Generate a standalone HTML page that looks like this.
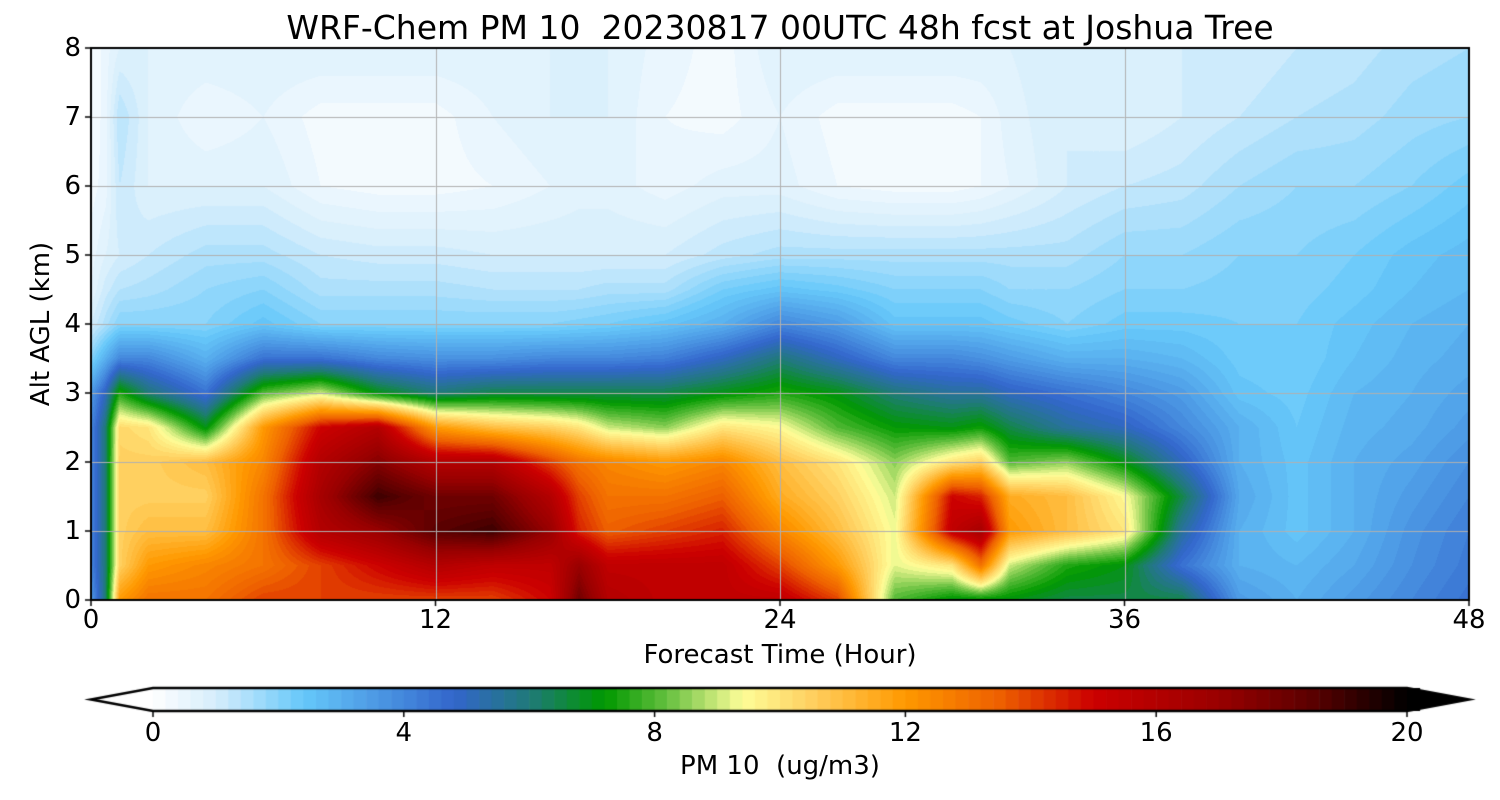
<!DOCTYPE html>
<html><head><meta charset="utf-8">
<style>
html,body{margin:0;padding:0;background:#fff;}
#wrap{position:relative;width:1500px;height:800px;font-family:"DejaVu Sans","Liberation Sans",sans-serif;color:#000;}
canvas{position:absolute;left:0;top:0;}
.t{position:absolute;white-space:nowrap;}
</style></head>
<body>
<div id="wrap">
<canvas id="c" width="1500" height="800"></canvas>
<div class="t" style="left:780px;top:8px;font-size:33px;transform:translateX(-50%);">WRF-Chem PM 10&nbsp; 20230817 00UTC 48h fcst at Joshua Tree</div>
<div class="t" style="left:41px;top:324px;font-size:26px;transform:translate(-50%,-50%) rotate(-90deg);">Alt AGL (km)</div>
<div class="t" style="left:780px;top:640px;font-size:26px;transform:translateX(-50%);">Forecast Time (Hour)</div>
<div class="t" style="left:780px;top:751px;font-size:26px;transform:translateX(-50%);">PM 10&nbsp; (ug/m3)</div>
<div id="labels"></div>
</div>
<script>
const times=[0,0.5,1,2,4,6,8,10,12,14,16,17,18,20,22,24,26,28,30,31,32,34,36,38,40,42,44,46,48];
const heights=[0,0.5,1,1.5,2,2.5,3,3.5,4,4.5,5,6,7,8];
const pm10=[
[3.5,4,4,4,4,4,3.5,2,1,0.6,0.5,0.3,0.2,0.2],
[6,6,6,6,6,6,5,3,1.5,1.1,0.8,0.5,0.5,0.5],
[12,10.5,10.5,10.5,10.5,10.3,7.5,4,2,1.4,1,1.2,1.4,0.8],
[13,12,11,10.5,10.5,10,6,4,2,1.5,1.2,0.8,0.8,0.8],
[13,12.5,11,10.5,11,7,4.5,3,2,1.8,1.5,0.8,0.4,0.8],
[14,13,13,13,12.5,12,8,4.5,2.5,2,1.5,0.8,0.6,0.8],
[14,14,16,16.5,16,15,9,4.5,2,1.5,1.2,0.4,0.3,0.8],
[14,15,17,19,17.5,16,7,4,2,1.5,1.1,0.3,0.3,0.8],
[14,16,18.5,18,16,12,6,3.8,2,1.5,1.1,0.3,0.3,0.8],
[14,15.5,19,18,16,11,6.5,3.8,2,1.4,1,0.4,0.6,0.8],
[15,15.5,17,16,14,10.5,6.5,4,2,1.4,1,0.6,0.8,0.8],
[18,17,14.5,14,13,10,6.5,4,2.1,1.4,1,0.7,0.8,0.8],
[16,15.5,13.5,13,12.5,9,6.5,4,2.2,1.5,1,0.7,0.8,0.8],
[15.5,15.5,14,13,12,8.5,6.5,4.2,2.5,1.5,1,0.5,0.4,0.5],
[15.5,15.5,14.5,13.5,12.5,10,7,5,3,2.2,1.3,0.7,0.3,0.3],
[15.5,14,12.5,11.5,11,9.5,7.5,6,4,2.5,1.5,0.7,0.6,0.8],
[14,12,11,10.5,10,8,7,5,3.5,2.3,1.5,0.4,0.3,0.8],
[8,9.2,9.3,9,8.5,7.2,6,4,2.5,2,1.5,0.3,0.3,0.8],
[7,10,15.5,15,10,7,5.5,4,2.5,2,1.5,0.3,0.3,0.8],
[7,13,16.5,14.5,10.5,7.3,5.5,3.8,2.5,2,1.5,0.4,0.4,0.8],
[7,9,12,11.5,8,6.5,5,3.5,2.3,1.8,1.5,0.6,0.7,0.8],
[6.5,7.5,11,11,8.5,5.5,4.5,3,2,1.8,1.5,1,1,1],
[6.5,7,10,9.5,7,5,4,3,2.3,2,1.8,1.2,0.8,0.9],
[6.5,4.5,5.5,6.5,5,4,3.5,2.8,2.3,2,1.8,1.3,1,1],
[3.5,3,3,3.2,3,3,2.5,2.3,2.2,2.1,2,1.6,1.2,1],
[3,2.8,2.5,2.5,2.5,2.4,2.3,2.2,2.2,2.1,2,1.8,1.4,1.2],
[3.5,3.2,3,3,3,2.9,2.8,2.6,2.5,2.3,2.2,1.8,1.5,1.3],
[4,3.8,3.7,3.5,3.3,3.1,3,2.9,2.8,2.6,2.5,2,1.7,1.5],
[4.5,4.3,4.2,4,3.8,3.5,3.3,3.1,3,2.8,2.7,2.3,1.8,1.6]
];
const xTicks=[0,12,24,36,48];
const yTicks=[0,1,2,3,4,5,6,7,8];
const cbTicks=[0,4,8,12,16,20];
const cmapVals=[0,1,2.4,3.6,4.8,6,7.2,8.2,9.4,10.5,12,13.5,15,17,18.5,20];
const cmapCols=['#ffffff','#d6eefc','#66c8fa','#4c98e4','#3366cc','#207a7a','#009900','#66c040','#fefe99','#ffd060','#ff9900','#ee6000','#cc0000','#9a0000','#5a0000','#000000'];

const L=91,R=1469,T=48,B=600;
const xs=t=>L+(t/48)*(R-L);
const ys=h=>B-(h/8)*(B-T);
const CB0=153,CB1=1407,CBT=688,CBB=711;
const cbx=v=>CB0+(v/20)*(CB1-CB0);
function hex(c){return [parseInt(c.slice(1,3),16),parseInt(c.slice(3,5),16),parseInt(c.slice(5,7),16)];}
const cRGB=cmapCols.map(hex);
function cmap(v){
  v=Math.max(0,Math.min(20,v));
  for(let i=0;i<cmapVals.length-1;i++){
    if(v<=cmapVals[i+1]){const f=(v-cmapVals[i])/(cmapVals[i+1]-cmapVals[i]);
      const a=cRGB[i],b=cRGB[i+1];return [a[0]+(b[0]-a[0])*f,a[1]+(b[1]-a[1])*f,a[2]+(b[2]-a[2])*f];}
  }
  return cRGB[cRGB.length-1];
}
function qz(v){return Math.floor(v/0.2)*0.2+0.1;}
function idx(arr,v){for(let i=0;i<arr.length-1;i++){if(v<=arr[i+1])return i;}return arr.length-2;}
function sample(t,h){
  const i=idx(times,t),j=idx(heights,h);
  const ft=(t-times[i])/(times[i+1]-times[i]),fh=(h-heights[j])/(heights[j+1]-heights[j]);
  const a=pm10[i][j],b=pm10[i+1][j],c=pm10[i][j+1],d=pm10[i+1][j+1];
  return (a*(1-ft)+b*ft)*(1-fh)+(c*(1-ft)+d*ft)*fh;
}
const cv=document.getElementById('c'),ctx=cv.getContext('2d');
const W=R-L,H=B-T,img=ctx.createImageData(W,H);
for(let py=0;py<H;py++){const h=8*(1-(py+0.5)/H);
  for(let px=0;px<W;px++){const t=48*(px+0.5)/W;
    const col=cmap(qz(sample(t,h)));const k=(py*W+px)*4;
    img.data[k]=col[0];img.data[k+1]=col[1];img.data[k+2]=col[2];img.data[k+3]=255;}}
ctx.putImageData(img,L,T);
ctx.strokeStyle='#b0b0b0';ctx.lineWidth=1;
xTicks.forEach(t=>{ctx.beginPath();ctx.moveTo(Math.round(xs(t))+0.5,T);ctx.lineTo(Math.round(xs(t))+0.5,B);ctx.stroke();});
yTicks.forEach(h=>{ctx.beginPath();ctx.moveTo(L,Math.round(ys(h))+0.5);ctx.lineTo(R,Math.round(ys(h))+0.5);ctx.stroke();});
ctx.strokeStyle='#000';ctx.lineWidth=2;ctx.strokeRect(L,T,W,H);
ctx.lineWidth=1.5;
xTicks.forEach(t=>{ctx.beginPath();ctx.moveTo(xs(t),B);ctx.lineTo(xs(t),B+6);ctx.stroke();});
yTicks.forEach(h=>{ctx.beginPath();ctx.moveTo(L,ys(h));ctx.lineTo(L-6,ys(h));ctx.stroke();});
for(let v=0;v<20;v+=0.2){const c=cmap(v+0.1);ctx.fillStyle=`rgb(${c[0]|0},${c[1]|0},${c[2]|0})`;
  ctx.fillRect(cbx(v),CBT,cbx(v+0.2)-cbx(v)+0.6,CBB-CBT);}
ctx.fillStyle='#fff';ctx.beginPath();ctx.moveTo(CB0,CBT);ctx.lineTo(91,(CBT+CBB)/2);ctx.lineTo(CB0,CBB);ctx.closePath();ctx.fill();
ctx.fillStyle='#000';ctx.beginPath();ctx.moveTo(CB1,CBT);ctx.lineTo(1469,(CBT+CBB)/2);ctx.lineTo(CB1,CBB);ctx.closePath();ctx.fill();
ctx.strokeStyle='#000';ctx.lineWidth=2.5;ctx.beginPath();
ctx.moveTo(CB0,CBT);ctx.lineTo(CB1,CBT);ctx.lineTo(1469,(CBT+CBB)/2);ctx.lineTo(CB1,CBB);ctx.lineTo(CB0,CBB);ctx.lineTo(91,(CBT+CBB)/2);ctx.closePath();ctx.stroke();
ctx.lineWidth=1.5;
cbTicks.forEach(v=>{ctx.beginPath();ctx.moveTo(cbx(v),CBB);ctx.lineTo(cbx(v),CBB+6);ctx.stroke();});
const lab=document.getElementById('labels');
xTicks.forEach(t=>{const d=document.createElement('div');d.className='t';


d.style.cssText=`left:${xs(t)}px;top:605px;font-size:26px;transform:translateX(-50%);`;d.textContent=t;lab.appendChild(d);});
yTicks.forEach(h=>{const d=document.createElement('div');d.className='t';


d.style.cssText=`left:${L-10}px;top:${ys(h)}px;font-size:26px;transform:translate(-100%,-50%);`;d.textContent=h;lab.appendChild(d);});
cbTicks.forEach(v=>{const d=document.createElement('div');d.className='t';


d.style.cssText=`left:${cbx(v)}px;top:718px;font-size:26px;transform:translateX(-50%);`;d.textContent=v;lab.appendChild(d);});
</script>
</body></html>
